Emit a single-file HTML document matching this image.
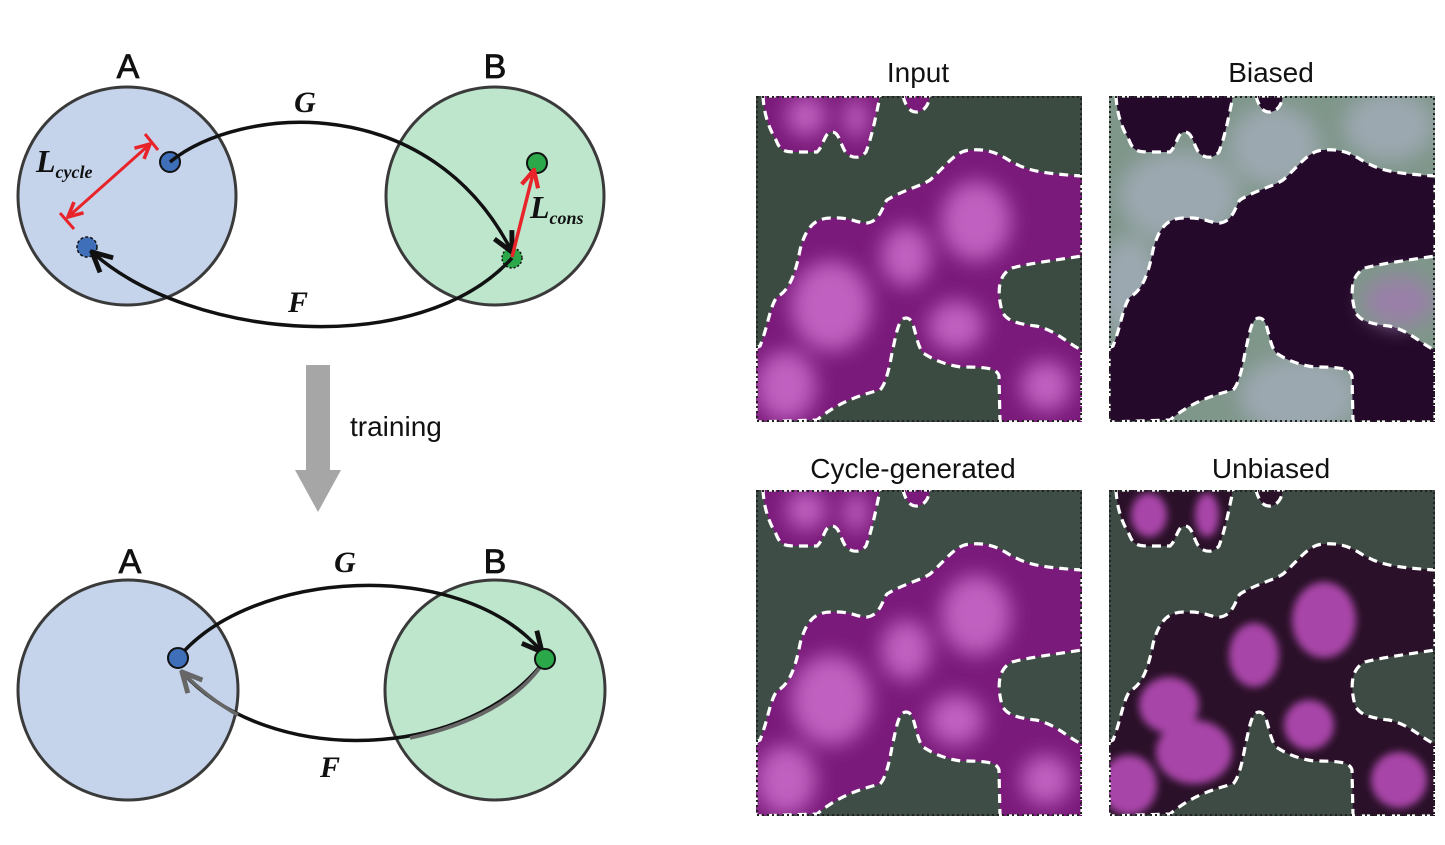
<!DOCTYPE html>
<html><head><meta charset="utf-8"><style>
body{margin:0;background:#fff;width:1445px;height:845px;overflow:hidden}
svg{display:block}
.lbl{font-family:"Liberation Sans",sans-serif;font-size:34px;fill:#111;stroke:#111;stroke-width:0.8}
.it{font-family:"Liberation Serif",serif;font-style:italic;font-weight:bold;fill:#111}
.ttl{font-family:"Liberation Sans",sans-serif;font-size:28px;fill:#111}
</style></head><body>
<svg width="1445" height="845" viewBox="0 0 1445 845">
<defs>
<marker id="ah" viewBox="0 0 10 10" refX="9" refY="5" markerWidth="7" markerHeight="7" orient="auto-start-reverse"><path d="M1,1 L9,5 L1,9" fill="none" stroke="#111" stroke-width="2"/></marker>
<marker id="ahg" viewBox="0 0 10 10" refX="9" refY="5" markerWidth="7" markerHeight="7" orient="auto-start-reverse"><path d="M1,1 L9,5 L1,9" fill="none" stroke="#666" stroke-width="2"/></marker>
<marker id="ar" viewBox="0 0 10 10" refX="9" refY="5" markerWidth="6" markerHeight="6" orient="auto-start-reverse"><path d="M1,1 L9,5 L1,9" fill="none" stroke="#e8242a" stroke-width="2"/></marker>
<path id="blob1" d="M7,0 C8,20 14,34 20,44 C24,54 27,56 40,56 L61,56 C68,50 68,36 76,36 C84,36 84,50 91,58 C98,63 105,62 110,56 C116,40 120,20 124,0 Z"/>
<path id="blob2" d="M147,0 C150,12 155,16 160,16 C166,16 172,12 174,0 Z"/>
<path id="main" d="M0,252 L4,250 C12,230 14,210 21,201 C30,196 38,186 44,154 C50,130 60,122 75,122 C95,121 100,127 111,127 C125,125 127,108 131,104 C145,95 165,90 174,84 C190,70 200,54 215,54 C240,52 250,64 260,68 C275,76 295,78 326,80 L326,160 C300,164 270,168 256,172 C240,180 242,200 246,215 C250,225 262,228 280,230 C300,234 315,250 326,254 L326,326 L244,326 L243,280 C241,272 230,271 205,271 C185,268 175,262 167,257 C158,245 160,222 150,222 C142,222 140,240 136,257 C132,280 128,290 124,294 C100,300 80,308 61,324 L0,326 Z"/>
<clipPath id="pc"><rect x="0" y="0" width="326" height="326"/></clipPath>
<clipPath id="rc"><use href="#main"/><use href="#blob1"/><use href="#blob2"/></clipPath>
<filter id="bl" x="-50%" y="-50%" width="200%" height="200%"><feGaussianBlur stdDeviation="10"/></filter>
<filter id="bl2" x="-50%" y="-50%" width="200%" height="200%"><feGaussianBlur stdDeviation="4"/></filter>
<g id="outline" fill="none" stroke="#fff" stroke-width="3.2" stroke-dasharray="9,6"><use href="#main"/><use href="#blob1"/><use href="#blob2"/></g>
<g id="softblobs" clip-path="url(#rc)" filter="url(#bl)" fill="#c060c0">
<ellipse cx="220" cy="125" rx="35" ry="40"/><ellipse cx="150" cy="160" rx="25" ry="30"/><ellipse cx="75" cy="210" rx="40" ry="45"/><ellipse cx="30" cy="290" rx="30" ry="35"/><ellipse cx="200" cy="230" rx="28" ry="25"/><ellipse cx="290" cy="290" rx="25" ry="25"/><ellipse cx="50" cy="20" rx="20" ry="20"/><ellipse cx="100" cy="22" rx="12" ry="20"/>
</g>
</defs>

<g>
<circle cx="127" cy="196" r="109" fill="#c5d4eb" stroke="#3a3a3a" stroke-width="3"/>
<circle cx="495" cy="196" r="109" fill="#bde6cc" stroke="#3a3a3a" stroke-width="3"/>
<text x="128" y="78" text-anchor="middle" class="lbl">A</text>
<text x="495" y="78" text-anchor="middle" class="lbl">B</text>
<circle cx="170" cy="162" r="10" fill="#3f6fb8" stroke="#111" stroke-width="2"/>
<circle cx="87" cy="247" r="10" fill="#3f6fb8" stroke="#111" stroke-width="1.5" stroke-dasharray="3,2"/>
<circle cx="537" cy="163" r="10" fill="#2aa84a" stroke="#111" stroke-width="2"/>
<circle cx="512" cy="258" r="10" fill="#2aa84a" stroke="#111" stroke-width="1.5" stroke-dasharray="2,2"/>
<path d="M170,162 C240,105 430,90 512,252" fill="none" stroke="#111" stroke-width="3.5" marker-end="url(#ah)"/>
<path d="M512,258 C420,360 190,340 92,252" fill="none" stroke="#111" stroke-width="3.5" marker-end="url(#ah)"/>
<line x1="150" y1="144" x2="68" y2="217" stroke="#e8242a" stroke-width="3" marker-start="url(#ar)" marker-end="url(#ar)"/>
<line x1="145" y1="134" x2="158" y2="150" stroke="#e8242a" stroke-width="3"/>
<line x1="60" y1="213" x2="74" y2="229" stroke="#e8242a" stroke-width="3"/>
<line x1="512" y1="257" x2="534" y2="170" stroke="#e8242a" stroke-width="3.5" marker-end="url(#ar)"/>
<text x="305" y="112" text-anchor="middle" class="it" font-size="30">G</text>
<text x="298" y="312" text-anchor="middle" class="it" font-size="30">F</text>
<text x="36" y="172" class="it" font-size="32">L<tspan font-size="18" dy="6">cycle</tspan></text>
<text x="530" y="218" class="it" font-size="32">L<tspan font-size="18" dy="6">cons</tspan></text>
</g>

<g>
<rect x="306" y="365" width="24" height="105" fill="#a6a6a6"/>
<polygon points="295,470 341,470 318,512" fill="#a6a6a6"/>
<text x="350" y="436" class="ttl" font-size="32">training</text>
</g>

<g>
<circle cx="128" cy="690" r="110" fill="#c5d4eb" stroke="#3a3a3a" stroke-width="3"/>
<circle cx="495" cy="690" r="110" fill="#bde6cc" stroke="#3a3a3a" stroke-width="3"/>
<text x="130" y="573" text-anchor="middle" class="lbl">A</text>
<text x="495" y="573" text-anchor="middle" class="lbl">B</text>
<path d="M545,660 C470,760 270,770 182,672" fill="none" stroke="#111" stroke-width="3.5" marker-end="url(#ahg)"/>
<path d="M545,660 C520,700 470,725 410,738" fill="none" stroke="#666" stroke-width="3.6"/>
<path d="M182,672 C200,690 220,705 238,715" fill="none" stroke="#666" stroke-width="3.6"/>
<path d="M178,658 C250,570 460,555 542,652" fill="none" stroke="#111" stroke-width="3.5" marker-end="url(#ah)"/>
<circle cx="178" cy="658" r="10" fill="#3f6fb8" stroke="#111" stroke-width="2"/>
<circle cx="545" cy="659" r="10" fill="#2aa84a" stroke="#111" stroke-width="2"/>
<text x="345" y="572" text-anchor="middle" class="it" font-size="30">G</text>
<text x="330" y="777" text-anchor="middle" class="it" font-size="30">F</text>
</g>

<text x="918" y="82" text-anchor="middle" class="ttl">Input</text>
<text x="1271" y="82" text-anchor="middle" class="ttl">Biased</text>
<text x="913" y="478" text-anchor="middle" class="ttl">Cycle-generated</text>
<text x="1271" y="478" text-anchor="middle" class="ttl">Unbiased</text>

<g transform="translate(756,96)" clip-path="url(#pc)">
<rect width="326" height="326" fill="#3c4b42"/>
<g fill="#7a1a7a"><use href="#main"/><use href="#blob1"/><use href="#blob2"/></g>
<use href="#softblobs"/>
<use href="#outline"/>
<rect x="1" y="1" width="324" height="324" fill="none" stroke="#222" stroke-width="2" stroke-dasharray="2,3"/>
</g>
<g transform="translate(1109,96)" clip-path="url(#pc)">
<rect width="326" height="326" fill="#7f968a"/>
<g fill="#9ca8b0" filter="url(#bl)"><ellipse cx="70" cy="100" rx="60" ry="45"/><ellipse cx="165" cy="50" rx="45" ry="40"/><ellipse cx="280" cy="30" rx="45" ry="35"/><ellipse cx="20" cy="190" rx="30" ry="50"/><ellipse cx="190" cy="300" rx="60" ry="40"/></g>
<g fill="#24092a"><use href="#main"/><use href="#blob1"/><use href="#blob2"/></g>
<ellipse cx="290" cy="205" rx="35" ry="25" fill="#9a80a8" filter="url(#bl)"/>
<use href="#outline"/>
<rect x="1" y="1" width="324" height="324" fill="none" stroke="#222" stroke-width="2" stroke-dasharray="2,3"/>
</g>
<g transform="translate(756,490)" clip-path="url(#pc)">
<rect width="326" height="326" fill="#3e4d46"/>
<g fill="#7a1a7a"><use href="#main"/><use href="#blob1"/><use href="#blob2"/></g>
<use href="#softblobs"/>
<use href="#outline"/>
<rect x="1" y="1" width="324" height="324" fill="none" stroke="#222" stroke-width="2" stroke-dasharray="2,3"/>
</g>
<g transform="translate(1109,490)" clip-path="url(#pc)">
<rect width="326" height="326" fill="#3e4b45"/>
<g fill="#2a1028"><use href="#main"/><use href="#blob1"/><use href="#blob2"/></g>
<g clip-path="url(#rc)"><g fill="#a844a8" filter="url(#bl2)"><ellipse cx="215" cy="130" rx="32" ry="38"/><ellipse cx="145" cy="165" rx="25" ry="32"/><ellipse cx="60" cy="215" rx="30" ry="28"/><ellipse cx="85" cy="262" rx="38" ry="32"/><ellipse cx="20" cy="295" rx="28" ry="30"/><ellipse cx="200" cy="235" rx="25" ry="25"/><ellipse cx="290" cy="290" rx="28" ry="28"/><ellipse cx="40" cy="25" rx="18" ry="22"/><ellipse cx="98" cy="25" rx="12" ry="22"/></g></g>
<use href="#outline"/>
<rect x="1" y="1" width="324" height="324" fill="none" stroke="#222" stroke-width="2" stroke-dasharray="2,3"/>
</g>
</svg>
</body></html>
